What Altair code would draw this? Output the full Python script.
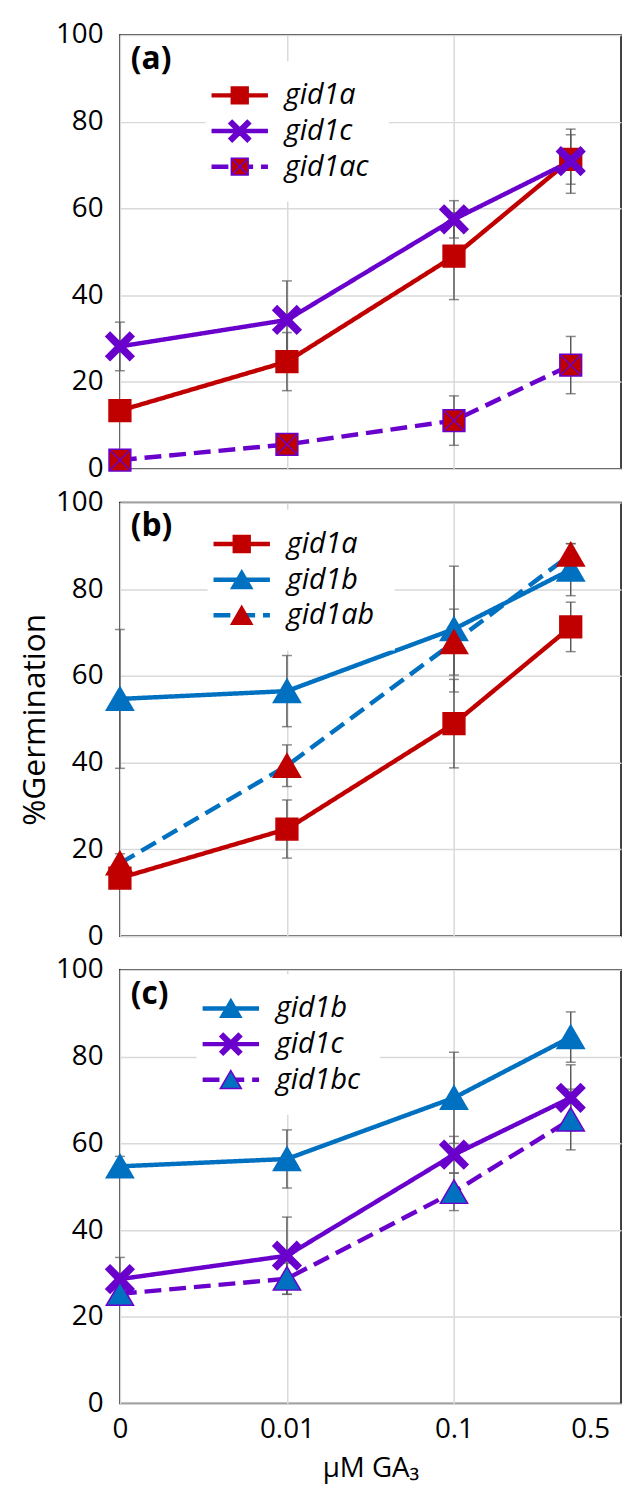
import altair as alt
import pandas as pd

# ---------------- data ----------------
doses = [0, 0.01, 0.1, 0.5]
dose_labels = ["0", "0.01", "0.1", "0.5"]

# panel (a)
a_series = ["gid1a", "gid1c", "gid1ac"]
a_gid1a = [13.4, 24.7, 49.0, 71.3]
a_gid1a_se = [2.0, 6.7, 10.0, 5.7]
a_gid1c = [28.2, 34.3, 57.5, 70.9]
a_gid1c_se = [5.6, 9.0, 4.3, 7.4]
a_gid1ac = [2.0, 5.6, 11.1, 23.9]
a_gid1ac_se = [1.0, 1.2, 5.7, 6.6]

# panel (b)
b_series = ["gid1a", "gid1b", "gid1ab"]
b_gid1a = [13.4, 24.7, 49.0, 71.3]
b_gid1a_se = [2.0, 6.7, 10.2, 5.7]
b_gid1b = [54.7, 56.5, 70.8, 84.5]
b_gid1b_se = [16.0, 8.2, 14.5, 6.0]
b_gid1ab = [16.8, 39.3, 67.8, 88.0]
b_gid1ab_se = [2.2, 4.8, 7.6, 2.5]

# panel (c)
c_series = ["gid1b", "gid1c", "gid1bc"]
c_gid1b = [54.7, 56.4, 70.5, 84.5]
c_gid1b_se = [2.3, 6.7, 10.5, 5.8]
c_gid1c = [28.7, 34.1, 57.4, 70.5]
c_gid1c_se = [5.0, 8.9, 4.2, 7.6]
c_gid1bc = [25.3, 28.8, 48.8, 65.5]
c_gid1bc_se = [1.5, 3.6, 4.3, 7.0]

# ---------------- styles ----------------
RED = "#C00000"
PURPLE = "#6A00CC"
BLUE = "#0070C0"
GRAY = "#595959"
GRID = "#D9D9D9"
FONT = "Open Sans"
SOLID = [1, 0]
DASH = [17, 8]
SQ = "M-1,-1H1V1H-1Z"
SQX = "M-1,-1H1V1H-1Z M-1,-1L1,1 M-1,1L1,-1"
XP = ("M-0.9,1.29L0,0.4L0.9,1.29L1.29,0.9L0.4,0L1.29,-0.9L0.9,-1.29L0,-0.4"
      "L-0.9,-1.29L-1.29,-0.9L-0.4,0L-1.29,0.9Z")
TRI = "M0,-1.1L1.25,1.05L-1.25,1.05Z"

STYLE = {
    "gid1a": dict(line=RED, dash=SOLID, shape=SQ, fill=RED, stroke=RED),
    "gid1b": dict(line=BLUE, dash=SOLID, shape=TRI, fill=BLUE, stroke=BLUE),
    "gid1c": dict(line=PURPLE, dash=SOLID, shape=XP, fill=PURPLE, stroke=PURPLE),
    "gid1ac": dict(line=PURPLE, dash=DASH, shape=SQX, fill=RED, stroke=PURPLE),
    "gid1ab": dict(line=BLUE, dash=DASH, shape=TRI, fill=RED, stroke=RED),
    "gid1bc": dict(line=PURPLE, dash=DASH, shape=TRI, fill=BLUE, stroke=PURPLE),
}

W, H = 506, 438
XDOM = [0.001, 1]
xvals = [0.001, 0.01, 0.1, 0.5]
label_expr = ("[" + ",".join("'%s'" % s for s in dose_labels) + "][indexof(["
              + ",".join(str(v) for v in xvals) + "], datum.value)]")


def build_df(series, vals, ses):
    rows = []
    for s, v, e in zip(series, vals, ses):
        for d, y, err in zip(doses, v, e):
            rows.append(dict(dose=d, xpos=(d if d > 0 else 0.001), series=s,
                             sl=s, sp=s, value=y, lo=y - err, hi=y + err))
    return pd.DataFrame(rows)


def panel(tag, series, vals, ses, leg, ytitle=None, xlabels=False):
    df = build_df(series, vals, ses)
    lx, ly, rowpad = leg
    xscale = alt.Scale(type="log", domain=XDOM, nice=False)
    yscale = alt.Scale(domain=[0, 100], nice=False)
    xaxis = alt.Axis(
        values=xvals, grid=True, gridColor=GRID, gridWidth=1.5,
        gridOpacity={"condition": {"test": "datum.value == 0.5", "value": 0}, "value": 1},
        domain=False, ticks=False, labels=xlabels, labelExpr=label_expr,
        labelFont=FONT, labelFontSize=28, labelColor="black", labelPadding=12,
        labelAlign={"condition": {"test": "datum.value == 0.5", "value": "left"}, "value": "center"},
        title=("\u03bcM GA\u2083" if xlabels else None),
        titleFont=FONT, titleFontSize=28, titleFontWeight="normal", titleColor="black",
        titlePadding=12,
    )
    yaxis = alt.Axis(
        values=[0, 20, 40, 60, 80, 100], grid=True, gridColor=GRID, gridWidth=1.5,
        domain=False, ticks=False, labelFont=FONT, labelFontSize=28,
        labelColor="black", labelPadding=17, title=ytitle,
        titleFont=FONT, titleFontSize=32, titleFontWeight="normal",
        titleColor="black", titlePadding=4,
    )
    X = alt.X("xpos:Q", scale=xscale, axis=xaxis)
    Y = alt.Y("value:Q", scale=yscale, axis=yaxis)

    P1 = 20
    line_leg = alt.Legend(
        title=None, orient="none", legendX=lx - P1, legendY=ly - P1,
        symbolType="M-3.35,0H3.35", symbolSize=289, symbolStrokeWidth=4.5,
        labelFont=FONT, labelFontSize=29, labelFontStyle="italic",
        labelColor="black", labelOffset=31, rowPadding=rowpad, padding=P1,
        fillColor="white", zindex=1,
    )
    pt_leg = alt.Legend(
        title=None, orient="none", legendX=lx, legendY=ly,
        symbolSize=289, symbolStrokeWidth=1.5, symbolOpacity=1,
        labelFont=FONT, labelFontSize=29, labelExpr="''",
        labelOffset=31, rowPadding=rowpad, padding=0, zindex=2,
    )
    # marker scales take their domain from an expression so that their legend
    # stays separate from the line legend (both are drawn at the same spot)
    pt_domain = alt.ExprRef("[" + ",".join("'%s'" % s for s in series) + "]")

    lines = alt.Chart(df).mark_line(strokeWidth=4.5, strokeJoin="round").encode(
        x=X, y=Y,
        color=alt.Color("sl:N",
                        scale=alt.Scale(domain=series,
                                        range=[STYLE[s]["line"] for s in series]),
                        legend=line_leg),
        strokeDash=alt.StrokeDash("sl:N",
                                  scale=alt.Scale(domain=series,
                                                  range=[STYLE[s]["dash"] for s in series]),
                                  legend=line_leg),
    )
    bars = alt.Chart(df).mark_errorbar(
        ticks={"size": 10, "thickness": 1.5}, thickness=1.5, color=GRAY
    ).encode(x=X, y=alt.Y("lo:Q", scale=yscale, axis=yaxis), y2="hi:Q")
    pts = alt.Chart(df).mark_point(size=484, opacity=1, strokeWidth=1.5).encode(
        x=X, y=Y,
        shape=alt.Shape("sp:N",
                        scale=alt.Scale(domain=pt_domain,
                                        range=[STYLE[s]["shape"] for s in series]),
                        legend=pt_leg),
        fill=alt.Fill("sp:N",
                      scale=alt.Scale(domain=pt_domain,
                                      range=[STYLE[s]["fill"] for s in series]),
                      legend=pt_leg),
        stroke=alt.Stroke("sp:N",
                          scale=alt.Scale(domain=pt_domain,
                                          range=[STYLE[s]["stroke"] for s in series]),
                          legend=pt_leg),
    )
    return alt.layer(lines, bars, pts).properties(
        width=W, height=H,
        title=alt.TitleParams(tag, anchor="start", orient="top", frame="group",
                              font=FONT, fontSize=32, fontWeight="bold",
                              color="black", baseline="top", offset=0, dx=11, dy=55),
    )


pa = panel("(a)", a_series, [a_gid1a, a_gid1c, a_gid1ac],
           [a_gid1a_se, a_gid1c_se, a_gid1ac_se], (115 - 8.5, 61 - 14.5, 6))
pb = panel("(b)", b_series, [b_gid1a, b_gid1b, b_gid1ab],
           [b_gid1a_se, b_gid1b_se, b_gid1ab_se], (117 - 8.5, 42 - 14.5, 6),
           ytitle="%Germination")
pc = panel("(c)", c_series, [c_gid1b, c_gid1c, c_gid1bc],
           [c_gid1b_se, c_gid1c_se, c_gid1bc_se], (106 - 8.5, 39 - 14.5, 6),
           xlabels=True)

chart = alt.vconcat(pa, pb, pc, spacing=34, bounds="flush").resolve_scale(
    color="independent", strokeDash="independent", shape="independent",
    fill="independent", stroke="independent"
).configure(
    padding={"left": 10, "top": 5, "right": 0, "bottom": 0}, background="white"
).configure_view(
    stroke="black", strokeWidth=1.5
)

chart.save("out.html", embed_options={"renderer": "svg", "actions": False})
